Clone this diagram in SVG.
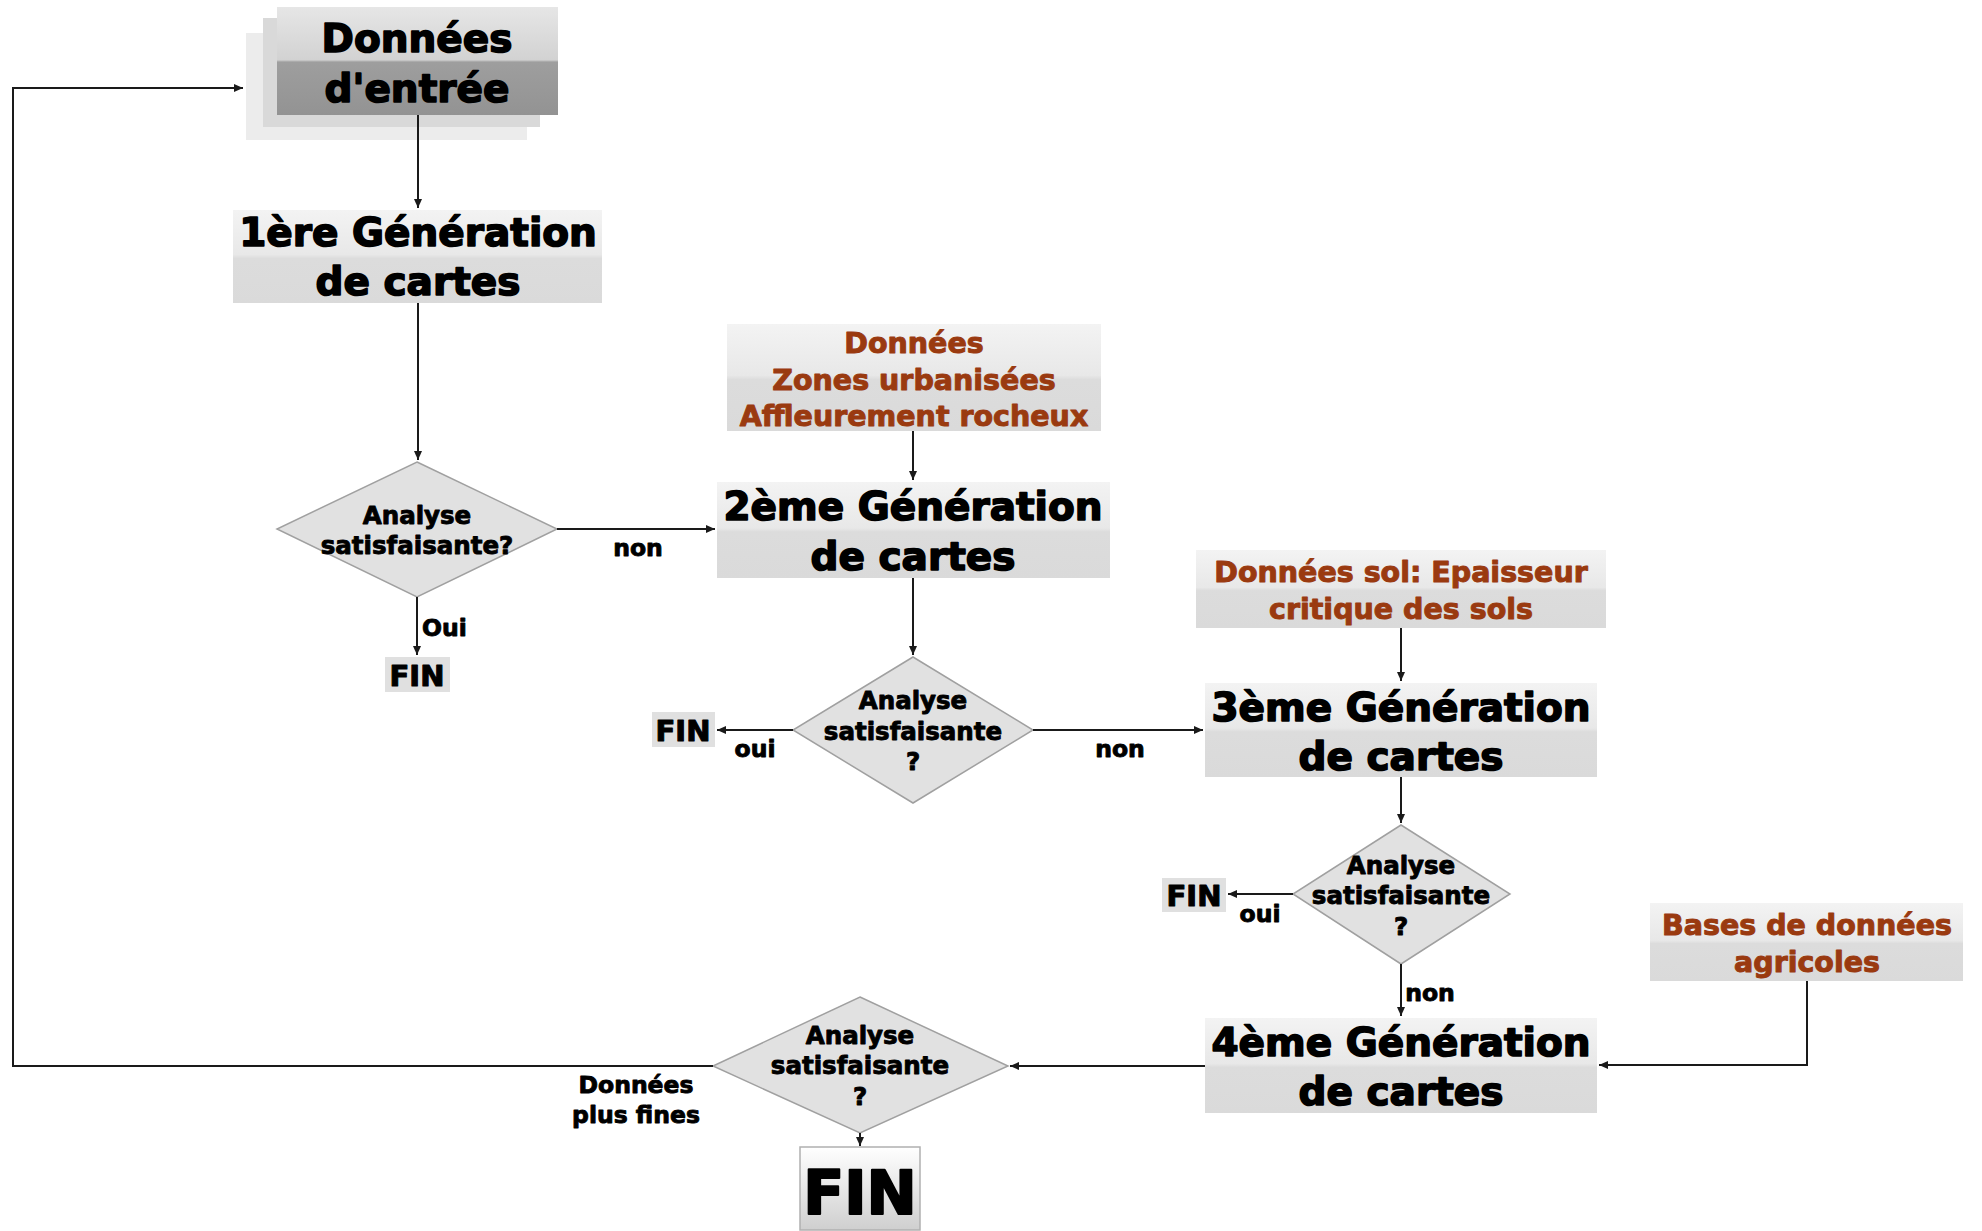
<svg xmlns="http://www.w3.org/2000/svg" width="1982" height="1231" viewBox="0 0 1982 1231">
<style>
text{font-family:"DejaVu Sans","Liberation Sans",sans-serif;font-weight:bold;text-anchor:middle;fill:#000;stroke:#000;stroke-linejoin:round}
.big{font-size:39px;stroke-width:1.6px}
.dia{font-size:24.5px;stroke-width:0.9px}
.lab{font-size:23.5px;stroke-width:0.9px}
.fin{font-size:29px;stroke-width:1.1px}
.brown{font-size:28.5px;fill:#9a3a10;stroke:#9a3a10;stroke-width:1px}
.box{fill:url(#boxg)}
.diamond{fill:#e1e1e1;stroke:#a0a0a0;stroke-width:1.5}
.conn{fill:none;stroke:#1a1a1a;stroke-width:2}
</style>
<defs>
<linearGradient id="boxg" x1="0" y1="0" x2="0" y2="1">
<stop offset="0" stop-color="#f3f3f3"/>
<stop offset="0.48" stop-color="#e8e8e8"/>
<stop offset="0.52" stop-color="#dcdcdc"/>
<stop offset="1" stop-color="#dadada"/>
</linearGradient>
<linearGradient id="ing" x1="0" y1="0" x2="0" y2="1">
<stop offset="0" stop-color="#e6e6e6"/>
<stop offset="0.49" stop-color="#d2d2d2"/>
<stop offset="0.51" stop-color="#9e9e9e"/>
<stop offset="1" stop-color="#939393"/>
</linearGradient>
<linearGradient id="fing" x1="0" y1="0" x2="0" y2="1">
<stop offset="0" stop-color="#ffffff"/>
<stop offset="1" stop-color="#cfcfcf"/>
</linearGradient>
<marker id="arr" markerUnits="userSpaceOnUse" markerWidth="10" markerHeight="8" refX="9" refY="4" orient="auto">
<path d="M0,0 L9,4 L0,8 z" fill="#1a1a1a"/>
</marker>
</defs>

<g id="n-entree">
<rect x="246" y="33" width="281" height="107" fill="#ececec"/>
<rect x="263" y="18" width="277" height="109" fill="#d9d9d9"/>
<rect x="277" y="7" width="281" height="108" fill="url(#ing)"/>
<text class="big" x="417" y="52">Données</text>
<text class="big" x="417" y="102">d'entrée</text>
</g>

<g id="n-gen1">
<rect class="box" x="233" y="210" width="369" height="93"/>
<text class="big" x="418" y="246">1ère Génération</text>
<text class="big" x="418" y="295">de cartes</text>
</g>

<g id="n-d1">
<polygon class="diamond" points="417,462 557,529 417,597 277,529"/>
<text class="dia" x="417" y="524">Analyse</text>
<text class="dia" x="417" y="554">satisfaisante?</text>
</g>

<g id="n-fin1">
<rect x="385" y="657" width="65" height="35" fill="#e0e0e0"/>
<text class="fin" x="417" y="686">FIN</text>
</g>

<g id="n-data2">
<rect class="box" x="727" y="324" width="374" height="107"/>
<text class="brown" x="914" y="353">Données</text>
<text class="brown" x="914" y="390">Zones urbanisées</text>
<text class="brown" x="914" y="426">Affleurement rocheux</text>
</g>

<g id="n-gen2">
<rect class="box" x="717" y="482" width="393" height="96"/>
<text class="big" x="913" y="520">2ème Génération</text>
<text class="big" x="913" y="570">de cartes</text>
</g>

<g id="n-d2">
<polygon class="diamond" points="913,657 1033,730 913,803 793,730"/>
<text class="dia" x="913" y="709">Analyse</text>
<text class="dia" x="913" y="740">satisfaisante</text>
<text class="dia" x="913" y="770">?</text>
</g>

<g id="n-fin2">
<rect x="652" y="712" width="63" height="35" fill="#e0e0e0"/>
<text class="fin" x="683" y="741">FIN</text>
</g>

<g id="n-data3">
<rect class="box" x="1196" y="550" width="410" height="78"/>
<text class="brown" x="1401" y="582">Données sol: Epaisseur</text>
<text class="brown" x="1401" y="619">critique des sols</text>
</g>

<g id="n-gen3">
<rect class="box" x="1205" y="683" width="392" height="94"/>
<text class="big" x="1401" y="721">3ème Génération</text>
<text class="big" x="1401" y="770">de cartes</text>
</g>

<g id="n-d3">
<polygon class="diamond" points="1401,825 1510,894 1401,964 1293,894"/>
<text class="dia" x="1401" y="874">Analyse</text>
<text class="dia" x="1401" y="904">satisfaisante</text>
<text class="dia" x="1401" y="935">?</text>
</g>

<g id="n-fin3">
<rect x="1162" y="878" width="64" height="34" fill="#e0e0e0"/>
<text class="fin" x="1194" y="906">FIN</text>
</g>

<g id="n-data4">
<rect class="box" x="1650" y="903" width="313" height="78"/>
<text class="brown" x="1807" y="935">Bases de données</text>
<text class="brown" x="1807" y="972">agricoles</text>
</g>

<g id="n-gen4">
<rect class="box" x="1205" y="1018" width="392" height="95"/>
<text class="big" x="1401" y="1056">4ème Génération</text>
<text class="big" x="1401" y="1105">de cartes</text>
</g>

<g id="n-d4">
<polygon class="diamond" points="860,997 1008,1066 860,1133 713,1066"/>
<text class="dia" x="860" y="1044">Analyse</text>
<text class="dia" x="860" y="1074">satisfaisante</text>
<text class="dia" x="860" y="1105">?</text>
</g>

<g id="n-fin4">
<rect x="800" y="1147" width="120" height="83" fill="url(#fing)" stroke="#b0b0b0" stroke-width="1.5"/>
<text x="860" y="1214" style="font-size:60px;stroke-width:2.2px">FIN</text>
</g>

<g id="connectors">
<path class="conn" d="M418,115 V208" marker-end="url(#arr)"/>
<path class="conn" d="M418,303 V460" marker-end="url(#arr)"/>
<path class="conn" d="M557,529 H715" marker-end="url(#arr)"/>
<path class="conn" d="M417,597 V655" marker-end="url(#arr)"/>
<path class="conn" d="M913,431 V480" marker-end="url(#arr)"/>
<path class="conn" d="M913,578 V655" marker-end="url(#arr)"/>
<path class="conn" d="M793,730 H717" marker-end="url(#arr)"/>
<path class="conn" d="M1033,730 H1203" marker-end="url(#arr)"/>
<path class="conn" d="M1401,628 V681" marker-end="url(#arr)"/>
<path class="conn" d="M1401,777 V823" marker-end="url(#arr)"/>
<path class="conn" d="M1293,894 H1228" marker-end="url(#arr)"/>
<path class="conn" d="M1401,964 V1016" marker-end="url(#arr)"/>
<path class="conn" d="M1807,981 V1065 H1599" marker-end="url(#arr)"/>
<path class="conn" d="M1205,1066 H1010" marker-end="url(#arr)"/>
<path class="conn" d="M860,1133 V1146" marker-end="url(#arr)"/>
<path class="conn" d="M713,1066 H13 V88 H243" marker-end="url(#arr)"/>
<text class="lab" x="638" y="556">non</text>
<text class="lab" x="422" y="636" style="text-anchor:start">Oui</text>
<text class="lab" x="755" y="757">oui</text>
<text class="lab" x="1120" y="757">non</text>
<text class="lab" x="1260" y="922">oui</text>
<text class="lab" x="1430" y="1001">non</text>
<text class="lab" x="636" y="1093">Données</text>
<text class="lab" x="636" y="1123">plus fines</text>
</g>
</svg>
